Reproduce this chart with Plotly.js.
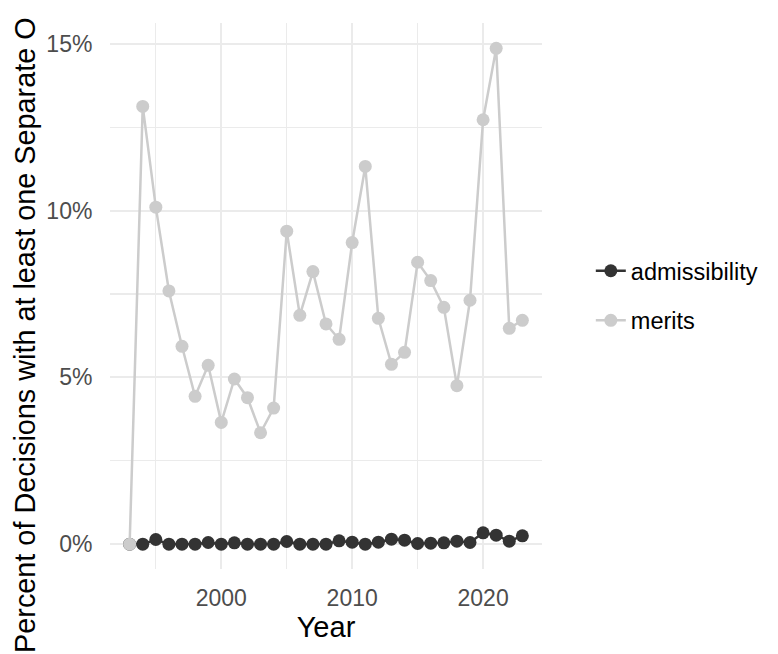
<!DOCTYPE html>
<html>
<head>
<meta charset="utf-8">
<script src="https://cdn.plot.ly/plotly-3.0.1.min.js"></script>
<style>html,body{margin:0;padding:0;background:#fff;}#chart{width:778px;height:654px;}</style>
</head>
<body>
<div id="chart"></div>
<script>
const years = [1993,1994,1995,1996,1997,1998,1999,2000,2001,2002,2003,2004,2005,2006,2007,2008,2009,2010,2011,2012,2013,2014,2015,2016,2017,2018,2019,2020,2021,2022,2023];
const admissibility = [0,0,0.14,0,0,0,0.05,0,0.04,0,0,0,0.08,0,0,0,0.1,0.06,0,0.06,0.15,0.12,0.02,0.03,0.04,0.09,0.05,0.34,0.27,0.09,0.25];
const merits = [0,13.12,10.1,7.59,5.93,4.43,5.36,3.65,4.95,4.39,3.34,4.08,9.38,6.86,8.17,6.6,6.14,9.04,11.32,6.77,5.39,5.75,8.45,7.9,7.1,4.75,7.31,12.72,14.86,6.47,6.71];
const seriesNames = ['admissibility','merits'];
const seriesColors = ['#333333','#CCCCCC'];
const yTickVals = [0,5,10,15];
const yTickText = ['0%','5%','10%','15%'];
const xTickVals = [2000,2010,2020];
const yTitle = 'Percent of Decisions with at least one Separate O';

const font = 'Liberation Sans, Arial, Helvetica, sans-serif';
const traces = [admissibility, merits].map((vals, i) => ({
  x: years, y: vals, name: seriesNames[i], legendgroup: seriesNames[i],
  type: 'scatter', mode: 'lines+markers',
  line: {color: seriesColors[i], width: 2.5},
  marker: {color: seriesColors[i], size: 13},
  hoverinfo: 'skip'
}));

const layout = {
  width: 778, height: 654,
  margin: {l: 110, r: 236, t: 23, b: 85, autoexpand: false},
  paper_bgcolor: '#fff', plot_bgcolor: '#fff',
  font: {family: font, color: '#000'},
  showlegend: true,
  legend: {x: 1.113, y: 0.5, xanchor: 'left', yanchor: 'middle',
    font: {size: 23.5, color: '#000'}, traceorder: 'grouped', tracegroupgap: 16,
    bgcolor: 'rgba(0,0,0,0)'},
  xaxis: {
    range: [1991.5, 2024.5], tickvals: xTickVals, ticktext: xTickVals.map(String),
    showgrid: true, gridcolor: '#EBEBEB', gridwidth: 2, zeroline: false, showline: false,
    ticks: 'outside', ticklen: 8, tickcolor: 'rgba(0,0,0,0)',
    tickfont: {size: 23, color: '#4D4D4D', family: font},
    minor: {tickvals: [1995, 2005, 2015], showgrid: true, gridcolor: '#EBEBEB', gridwidth: 1.2, ticks: ''},
    title: {text: 'Year', font: {size: 29, color: '#000', family: font}, standoff: 3}
  },
  yaxis: {
    range: [-0.744, 15.62], tickvals: yTickVals, ticktext: yTickText,
    showgrid: true, gridcolor: '#EBEBEB', gridwidth: 2, zeroline: false, showline: false,
    ticks: 'outside', ticklen: 12, tickcolor: 'rgba(0,0,0,0)',
    tickfont: {size: 23, color: '#4D4D4D', family: font},
    minor: {tickvals: [2.5, 7.5, 12.5], showgrid: true, gridcolor: '#EBEBEB', gridwidth: 1.2, ticks: ''}
  },
  annotations: [{
    text: yTitle, textangle: -90, showarrow: false,
    xref: 'paper', yref: 'paper', x: -0.197, y: 0.4286, xanchor: 'center', yanchor: 'middle',
    font: {size: 28.8, color: '#000', family: font}
  }]
};
Plotly.newPlot('chart', traces, layout, {displayModeBar: false, staticPlot: true});
</script>
</body>
</html>
